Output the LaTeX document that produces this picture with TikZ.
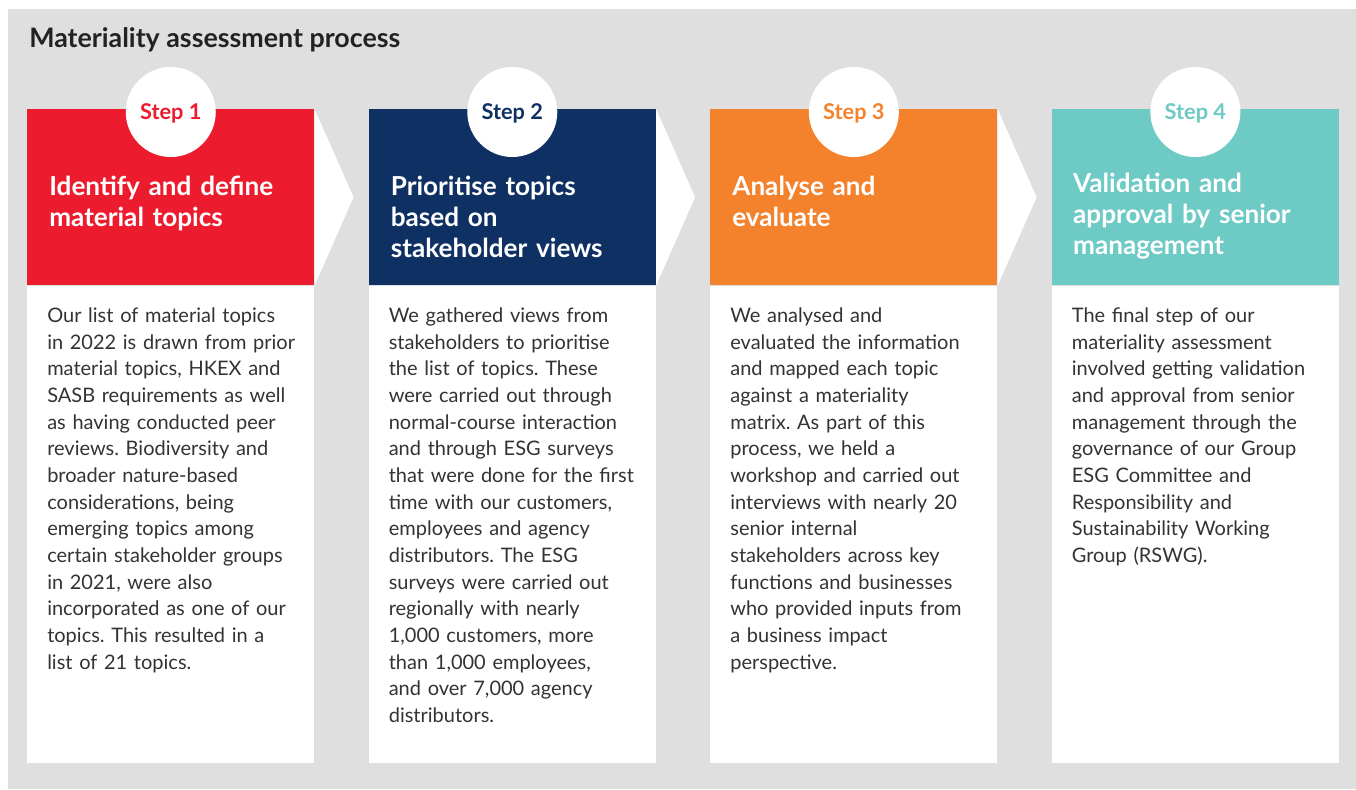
\documentclass[tikz,border=0pt]{standalone}
\usepackage{xcolor}
\usepackage{fontspec}
\setmainfont{Lato}
\usepackage{tikz}
\usetikzlibrary{positioning}
\frenchspacing

\definecolor{bggrey}{HTML}{DFDFDF}
\definecolor{stepred}{HTML}{ED1B2E}
\definecolor{stepnavy}{HTML}{0F3063}
\definecolor{steporange}{HTML}{F4822D}
\definecolor{stepteal}{HTML}{6ECAC4}
\definecolor{bodygrey}{HTML}{333333}
\definecolor{titlegrey}{HTML}{222222}

\tikzset{
    head/.style={minimum width=215.25pt, minimum height=132pt, inner sep=0, anchor=north west},
    bodybox/.style={fill=white, minimum width=215.25pt, minimum height=357.75pt, inner sep=0},
    stepdot/.style={circle, fill=white, minimum size=67.5pt, inner sep=0, text depth=0pt, font=\bfseries\fontsize{16.3}{19}\selectfont},
    headtxt/.style={anchor=base west, inner sep=0, text=white, text width=200pt, align=left, font=\bfseries\fontsize{19.6}{23.6}\selectfont},
    bodytxt/.style={anchor=base west, inner sep=0, text=bodygrey, text width=200pt, align=left, font=\fontsize{15}{20}\selectfont},
    chevron/.style={fill=white}
}

\begin{document}
\begin{tikzpicture}[x=0.75pt, y=-0.75pt]
        \useasboundingbox (0,0) rectangle (1356,789);
        \fill[bggrey] (8,9) rectangle (1356,789);
        \node[anchor=base west, inner sep=0, text=titlegrey, font=\bfseries\fontsize{20.1}{24}\selectfont] (title) at (29,47.5) {Materiality assessment process};
%
        \node[head, fill=stepred] (head1) at (27,109) {};
        \node[head, fill=stepnavy, right=40.5pt of head1] (head2) {};
        \node[head, fill=steporange, right=40.5pt of head2] (head3) {};
        \node[head, fill=stepteal, right=40.5pt of head3] (head4) {};
%
        \node[bodybox, below=0pt of head1] (body1) {};
        \node[bodybox, below=0pt of head2] (body2) {};
        \node[bodybox, below=0pt of head3] (body3) {};
        \node[bodybox, below=0pt of head4] (body4) {};
%
        \fill[chevron] (head1.north east) -- ([xshift=29.25pt]head1.east) -- (head1.south east) -- cycle;
        \fill[chevron] (head2.north east) -- ([xshift=29.25pt]head2.east) -- (head2.south east) -- cycle;
        \fill[chevron] (head3.north east) -- ([xshift=29.25pt]head3.east) -- (head3.south east) -- cycle;
%
        \node[stepdot, text=stepred, yshift=-2.25pt] (dot1) at (head1.north) {Step 1};
        \node[stepdot, text=stepnavy, yshift=-2.25pt] (dot2) at (head2.north) {Step 2};
        \node[stepdot, text=steporange, yshift=-2.25pt] (dot3) at (head3.north) {Step 3};
        \node[stepdot, text=stepteal, yshift=-2.25pt] (dot4) at (head4.north) {Step 4};
%
        \node[headtxt] (title1) at ([xshift=16.5pt, yshift=-64.5pt]head1.north west) {Identify and define\\material topics};
        \node[headtxt] (title2) at ([xshift=16.5pt, yshift=-64.5pt]head2.north west) {Prioritise topics\\based on\\stakeholder views};
        \node[headtxt] (title3) at ([xshift=16.5pt, yshift=-64.5pt]head3.north west) {Analyse and\\evaluate};
        \node[headtxt] (title4) at ([xshift=16pt, yshift=-62.25pt]head4.north west) {Validation and\\approval by senior\\management};
%
        \node[bodytxt] (text1) at ([xshift=15pt, yshift=-27.75pt]body1.north west)
            {Our list of material topics\\in 2022 is drawn from prior\\material topics, HKEX and\\SASB requirements as well\\as having conducted peer\\reviews. Biodiversity and\\broader nature-based\\considerations, being\\emerging topics among\\certain stakeholder groups\\in 2021, were also\\incorporated as one of our\\topics. This resulted in a\\list of 21 topics.};
        \node[bodytxt] (text2) at ([xshift=15pt, yshift=-27.75pt]body2.north west)
            {We gathered views from\\stakeholders to prioritise\\the list of topics. These\\were carried out through\\normal-course interaction\\and through ESG surveys\\that were done for the first\\time with our customers,\\employees and agency\\distributors. The ESG\\surveys were carried out\\regionally with nearly\\1,000 customers, more\\than 1,000 employees,\\and over 7,000 agency\\distributors.};
        \node[bodytxt] (text3) at ([xshift=15pt, yshift=-27.75pt]body3.north west)
            {We analysed and\\evaluated the information\\and mapped each topic\\against a materiality\\matrix. As part of this\\process, we held a\\workshop and carried out\\interviews with nearly 20\\senior internal\\stakeholders across key\\functions and businesses\\who provided inputs from\\a business impact\\perspective.};
        \node[bodytxt] (text4) at ([xshift=15pt, yshift=-27.75pt]body4.north west)
            {The final step of our\\materiality assessment\\involved getting validation\\and approval from senior\\management through the\\governance of our Group\\ESG Committee and\\Responsibility and\\Sustainability Working\\Group (RSWG).};
\end{tikzpicture}
\end{document}
